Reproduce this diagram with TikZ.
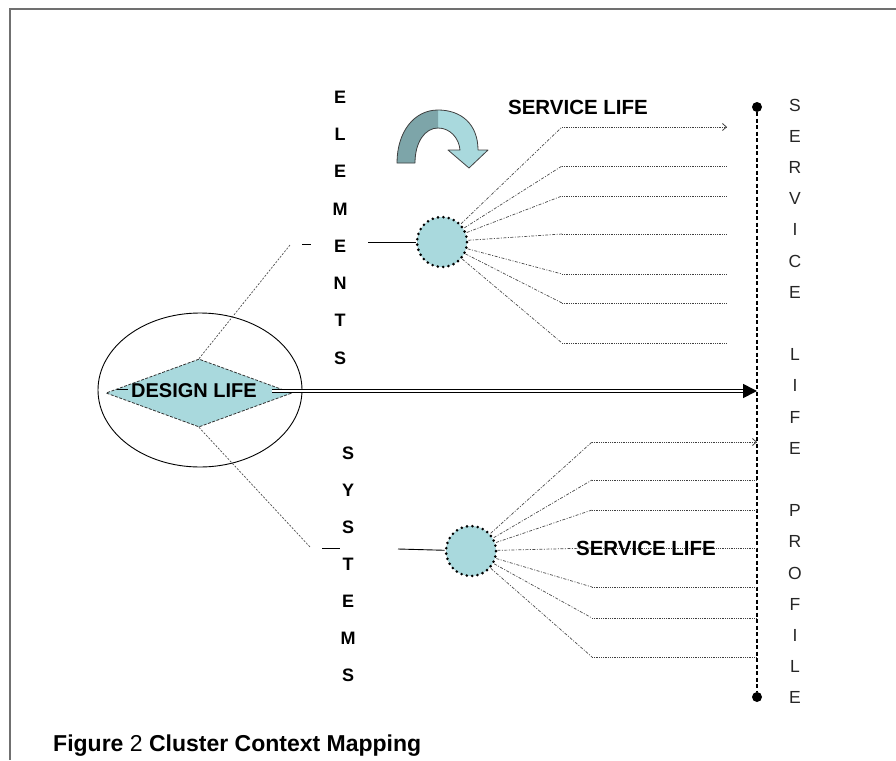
\documentclass[tikz,border=0pt]{standalone}
\usepackage{fontspec}
\setmainfont{Liberation Sans}
\usetikzlibrary{shapes.geometric,arrows.meta}
\definecolor{paleteal}{HTML}{A9D9DD}
\definecolor{darkteal}{HTML}{7DA5A9}
\definecolor{framegray}{HTML}{707070}

\begin{document}
\begin{tikzpicture}[x=1pt,y=-1pt,
	hub/.style={circle,fill=paleteal,draw,line width=2.9pt,dash pattern=on 0pt off 5.4pt,line cap=round,minimum size=50pt,inner sep=0pt},
	enddot/.style={circle,fill=black,inner sep=0pt,minimum size=10pt},
	fanleg/.style={black!70,line width=0.7pt,dash pattern=on 3pt off 1.5pt on 1pt off 1.5pt},
	fanrun/.style={black!75,line width=0.8pt,densely dotted},
	guide/.style={black!70,line width=0.7pt,dash pattern=on 2pt off 1.5pt},
	bigletter/.style={font=\bfseries\fontsize{18}{18}\selectfont,inner sep=0pt},
	thinletter/.style={font=\fontsize{17.5}{17.5}\selectfont,text=black!85,inner sep=0pt},
	lifetext/.style={font=\bfseries\fontsize{20.5}{20.5}\selectfont,inner sep=0pt}]
	
	\useasboundingbox (0,0) rectangle (896,760);
	\draw[framegray,line width=2pt] (10,760) -- (10,9) -- (896,9);
	
	% design life
	\node[ellipse,draw,line width=0.9pt,minimum width=204pt,minimum height=154pt] (lifering) at (200,390) {};
	\node[diamond,fill=paleteal,draw=black!80,line width=0.8pt,dash pattern=on 3pt off 1.5pt,aspect=2.7,minimum width=186pt,minimum height=68pt,inner sep=0pt] (design) at (199,393) {};
	\node[font=\bfseries\fontsize{20}{20}\selectfont,inner sep=0pt] (designtext) at (194,391) {DESIGN LIFE};
	\draw[line width=0.9pt] ([xshift=11pt,yshift=4pt]design.west) -- ++(11,0);
	
	% profile line
	\node[enddot] (ptop) at (757,107) {};
	\node[enddot] (pbot) at (757,697) {};
	\draw[line width=1.4pt,dash pattern=on 4pt off 2.5pt] (ptop) -- (pbot);
	
	\coordinate (astart) at ([xshift=-20pt,yshift=2pt]design.east);
	\draw[line width=1.6pt,double distance=1.4pt,-{Triangle[length=14pt,width=14pt]}] (astart) -- (astart -| ptop);
	
	% elements
	\coordinate (eknee) at (290,245);
	\coordinate (edash) at (302,244);
	\coordinate (estub) at (368,242);
	\node[hub] (elemhub) at (442,242) {};
	\draw[guide] (design.north) -- (eknee);
	\draw[line width=0.9pt] (edash) -- ++(9,0);
	\draw[line width=0.9pt] (estub) -- (elemhub);
	\foreach \ch [count=\i from 0] in {E,L,E,M,E,N,T,S}
		\node[bigletter] (el\i) at (340,{97+37.3*\i}) {\ch};
	
	\foreach \y [count=\i] in {127,166,196,234,274,303,343}{
		\coordinate (ek\i) at (562,\y);
		\draw[fanleg] (elemhub) -- (ek\i);
		\draw[fanrun] (ek\i) -- (727,\y);
	}
	\draw[fanrun,-{Straight Barb[length=4pt,width=7pt]}] (ek1) -- (727,127);
	
	% systems
	\coordinate (sknee) at (310,547);
	\coordinate (sdash) at (322,548);
	\coordinate (sstub) at (398,549);
	\node[hub] (syshub) at (471,551) {};
	\draw[guide] (design.south) -- (sknee);
	\draw[line width=0.9pt] (sdash) -- ++(18,0);
	\draw[line width=0.9pt] (sstub) -- (syshub);
	\foreach \ch [count=\i from 0] in {S,Y,S,T,E,M,S}
		\node[bigletter] (sy\i) at (348,{453+37*\i}) {\ch};
	
	\foreach \y [count=\i] in {442,480,510,548,587,618,657}{
		\coordinate (sk\i) at (592,\y);
		\draw[fanleg] (syshub) -- (sk\i);
		\draw[fanrun] (sk\i) -- (sk\i -| ptop);
	}
	\draw[fanrun,-{Straight Barb[length=4pt,width=7pt]}] (sk1) -- (sk1 -| ptop);
	
	\node[lifetext] (toplife) at (578,107) {SERVICE LIFE};
	\node[lifetext] (lowlife) at (646,548) {SERVICE LIFE};
	
	\foreach \ch/\k in {S/0,E/1,R/2,V/3,I/4,C/5,E/6,L/8,I/9,F/10,E/11,P/13,R/14,O/15,F/16,I/17,L/18,E/19}
		\node[thinletter] (pr\k) at (795,{105+31.2*\k}) {\ch};
	
	% turn arrow
	\fill[paleteal] (478,150) .. controls (478,124) and (461,110) .. (438,110) .. controls (414,110) and (397,132) .. (397,163) -- (415,163) .. controls (415,142) and (425,128) .. (438,128) .. controls (450,128) and (459,138) .. (460,150) -- (448,150) -- (469,168) -- (488,150) -- cycle;
	\fill[darkteal] (438,110) .. controls (414,110) and (397,132) .. (397,163) -- (415,163) .. controls (415,142) and (425,128) .. (438,128) -- cycle;
	\draw[black!75,line width=0.8pt,line join=round] (478,150) .. controls (478,124) and (461,110) .. (438,110) .. controls (414,110) and (397,132) .. (397,163) -- (415,163) .. controls (415,142) and (425,128) .. (438,128) .. controls (450,128) and (459,138) .. (460,150) -- (448,150) -- (469,168) -- (488,150) -- cycle;
	
	%	\draw[help lines,step=50] (0,0) grid (896,760);
	\node[anchor=base west,inner sep=0pt,font=\bfseries\fontsize{23}{23}\selectfont] (caption) at (53,751) {Figure {\mdseries 2} Cluster Context Mapping};
	
\end{tikzpicture}
\end{document}
